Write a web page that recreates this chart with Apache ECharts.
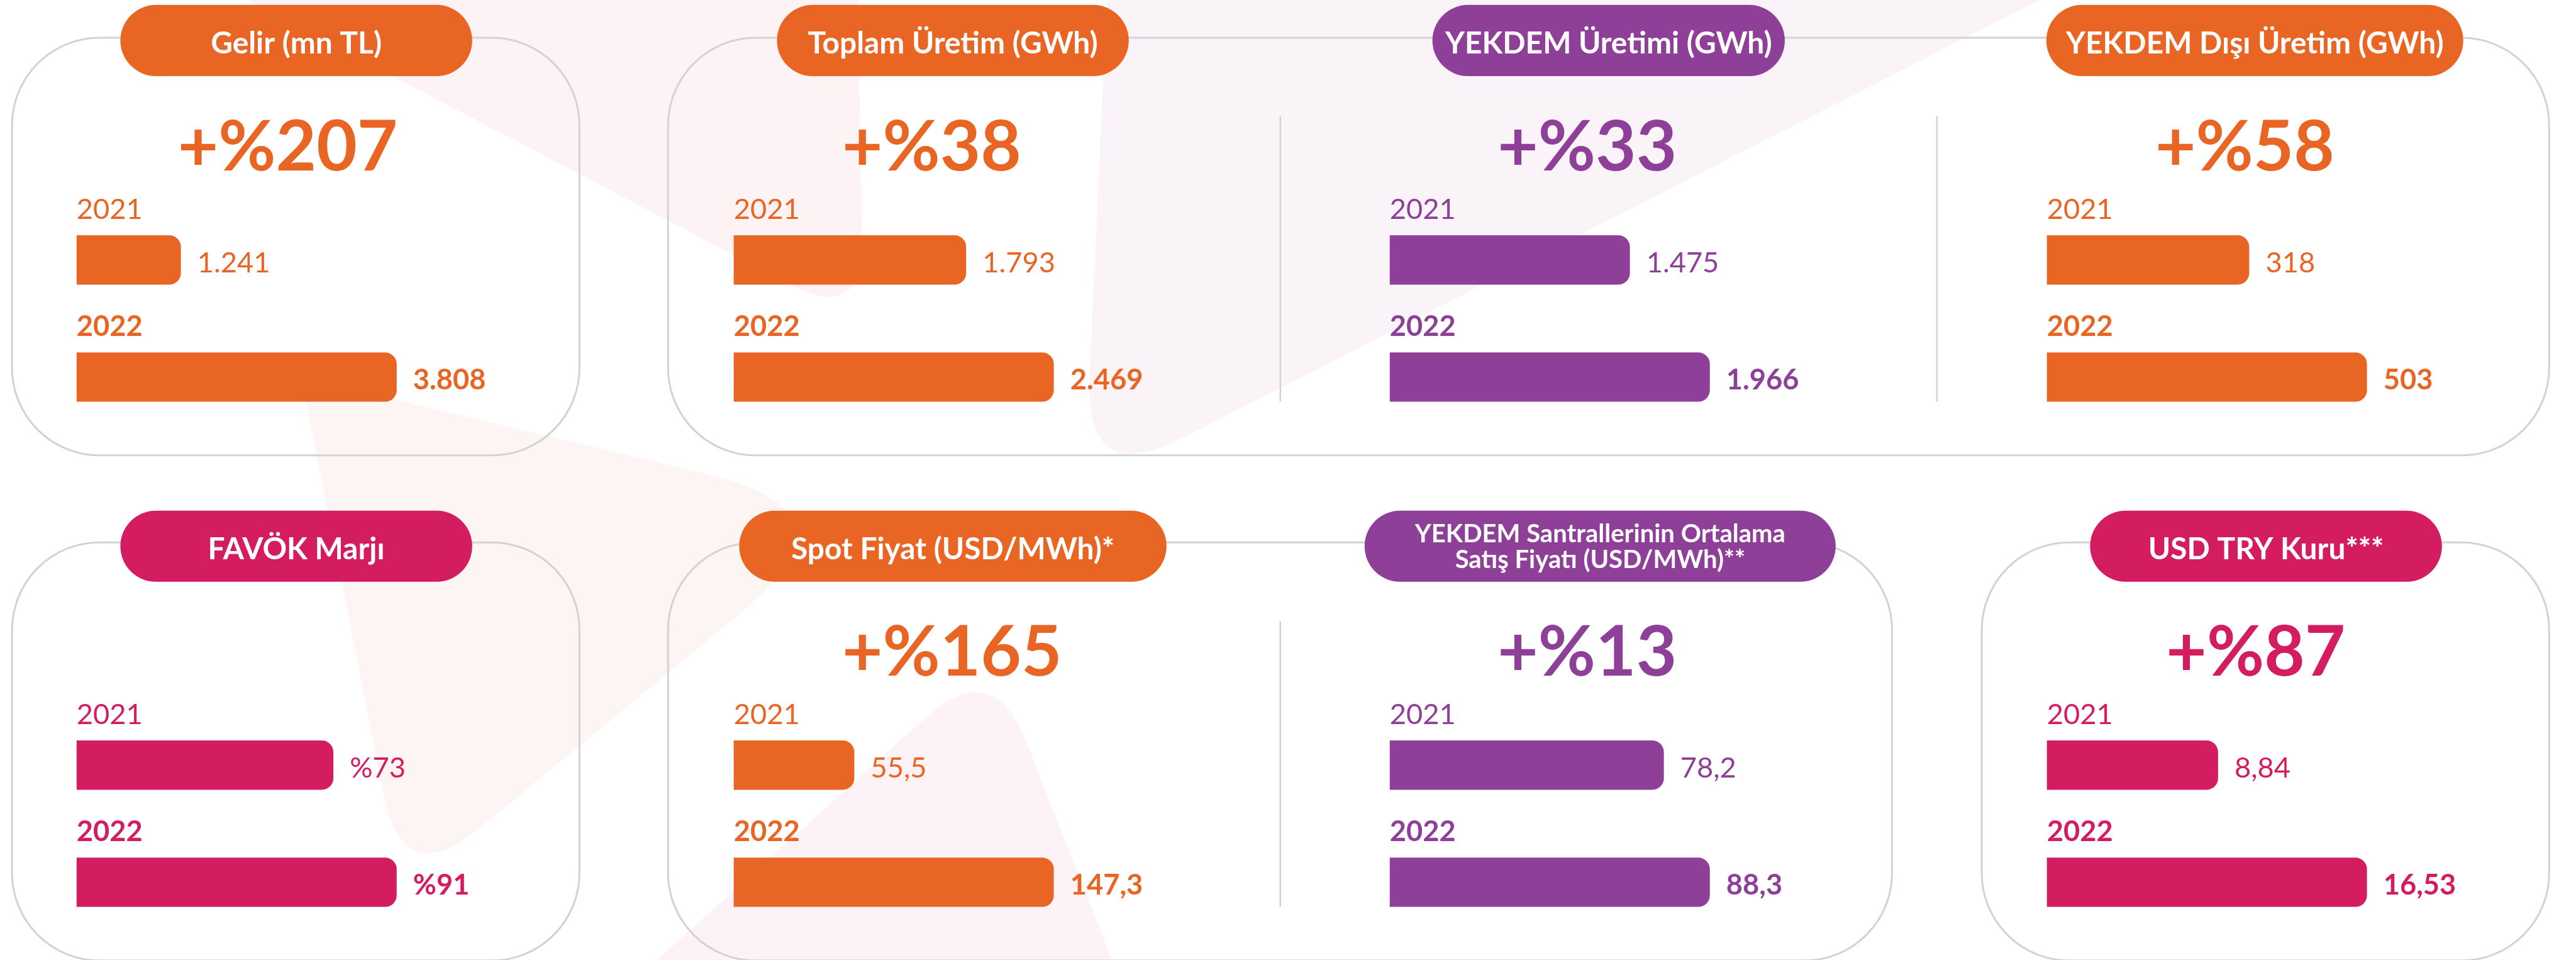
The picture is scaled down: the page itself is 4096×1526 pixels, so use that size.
<!DOCTYPE html>
<html>
<head>
<meta charset="utf-8">
<script src="https://cdn.jsdelivr.net/npm/echarts@6/dist/echarts.min.js"></script>
<style>
    html, body { margin: 0; padding: 0; background: #fff; }
    #chart { width: 4096px; height: 1526px; }
</style>
</head>
<body>
<div id="chart"></div>
<script>
// data
const years = ["2021", "2022"];
const gelir = [1241, 3808];
const toplamUretim = [1793, 2469];
const yekdemUretim = [1475, 1966];
const yekdemDisi = [318, 503];
const favokMarji = [73, 91];
const spotFiyat = [55.5, 147.3];
const yekdemFiyat = [78.2, 88.3];
const usdTry = [8.84, 16.53];
const titles = [
    "Gelir (mn TL)",
    "Toplam Üretim (GWh)",
    "YEKDEM Üretimi (GWh)",
    "YEKDEM Dışı Üretim (GWh)",
    "FAVÖK Marjı",
    "Spot Fiyat (USD/MWh)*",
    "YEKDEM Santrallerinin Ortalama\nSatış Fiyatı (USD/MWh)**",
    "USD TRY Kuru***",
];
const changes = ["+%207", "+%38", "+%33", "+%58", "", "+%165", "+%13", "+%87"];

const ORANGE = "#E96524";
const PURPLE = "#8E3F97";
const PINK = "#D41C60";
const FONT = 'Lato, "Noto Sans", sans-serif';

const S = 0.87; // reference px -> page px
const s = (v) => v * S;

const panels = [
    { data: gelir, color: ORANGE, dec: 0, prefix: "", col: 0, row: 0, pill: [220, 863], cx: 325 },
    { data: toplamUretim, color: ORANGE, dec: 0, prefix: "", col: 1, row: 0, pill: [1420, 2063], cx: 1539 },
    { data: yekdemUretim, color: PURPLE, dec: 0, prefix: "", col: 2, row: 0, pill: [2618, 3262], cx: 2737 },
    { data: yekdemDisi, color: ORANGE, dec: 0, prefix: "", col: 3, row: 0, pill: [3740, 4502], cx: 3939 },
    { data: favokMarji, color: PINK, dec: 0, prefix: "%", col: 0, row: 1, pill: [220, 863], cx: 0 },
    { data: spotFiyat, color: ORANGE, dec: 1, prefix: "", col: 1, row: 1, pill: [1351, 2132], cx: 1539 },
    { data: yekdemFiyat, color: PURPLE, dec: 1, prefix: "", col: 2, row: 1, pill: [2494, 3355], cx: 2737, min: 18 },
    { data: usdTry, color: PINK, dec: 2, prefix: "", col: 3, row: 1, pill: [3820, 4463], cx: 3959 },
];

const barLeft = [140, 1341, 2540, 3741];
const rowOff = [0, 923];

const fmt = (v, dec) => {
    let [i, d] = v.toFixed(dec).split(".");
    i = i.replace(/\B(?=(\d{3})+(?!\d))/g, ".");
    return d ? i + "," + d : i;
};

// rounded polygon for the pale background shapes
const roundPoly = (pts, ts) => {
    const out = [];
    const n = pts.length;
    for (let k = 0; k < n; k++) {
        const p = pts[k], a = pts[(k + n - 1) % n], b = pts[(k + 1) % n];
        const t = ts[k];
        if (!t) { out.push([s(p[0]), s(p[1])]); continue; }
        const da = Math.hypot(a[0] - p[0], a[1] - p[1]);
        const db = Math.hypot(b[0] - p[0], b[1] - p[1]);
        const A = [p[0] + (a[0] - p[0]) * t / da, p[1] + (a[1] - p[1]) * t / da];
        const B = [p[0] + (b[0] - p[0]) * t / db, p[1] + (b[1] - p[1]) * t / db];
        for (let j = 0; j <= 10; j++) {
            const u = j / 10;
            const x = (1 - u) * (1 - u) * A[0] + 2 * u * (1 - u) * p[0] + u * u * B[0];
            const y = (1 - u) * (1 - u) * A[1] + 2 * u * (1 - u) * p[1] + u * u * B[1];
            out.push([s(x), s(y)]);
        }
    }
    return out;
};

const graphic = [];
// background shapes
graphic.push({ type: "polygon", z: 0, shape: { points: roundPoly([[452, 0], [1568, 0], [1578, 590]], [0, 0, 150]) }, style: { fill: "#fdf3f5" } });
graphic.push({ type: "polygon", z: 0, shape: { points: roundPoly([[551, 690], [1579, 934], [736, 1629]], [60, 290, 180]) }, style: { fill: "#fcf5f3" } });
graphic.push({ type: "polygon", z: 0, shape: { points: roundPoly([[1815, 1200], [2050, 1800], [1150, 1800]], [166, 0, 0]) }, style: { fill: "#fdf2f6" } });
graphic.push({ type: "polygon", z: 0, shape: { points: roundPoly([[2023, 0], [3727, 0], [1982, 892]], [0, 0, 200]) }, style: { fill: "#faf3f8" } });

// frames
const boxStyle = { fill: "none", stroke: "#d3d3d3", lineWidth: s(3.5) };
[
    [22, 69, 1059, 832],
    [1221, 69, 4659, 832],
    [22, 991, 1059, 1755],
    [1221, 991, 3458, 1755],
    [3622, 991, 4659, 1755],
].forEach(([x1, y1, x2, y2]) => {
    graphic.push({ type: "rect", z: 1, shape: { x: s(x1), y: s(y1), width: s(x2 - x1), height: s(y2 - y1), r: s(160) }, style: boxStyle });
});
[[2340, 212, 734], [3540, 212, 734], [2340, 1135, 1657]].forEach(([x, y1, y2]) => {
    graphic.push({ type: "line", z: 1, shape: { x1: s(x), y1: s(y1), x2: s(x), y2: s(y2) }, style: { stroke: "#d3d3d3", lineWidth: s(3) } });
});

const grid = [], xAxis = [], yAxis = [], series = [];

panels.forEach((p, i) => {
    const off = rowOff[p.row];
    const pillTop = p.row ? 933 : 9;
    const pillH = 130;
    graphic.push({
        type: "rect", z: 5,
        shape: { x: s(p.pill[0]), y: s(pillTop), width: s(p.pill[1] - p.pill[0]), height: s(pillH), r: s(pillH / 2) },
        style: { fill: p.color },
    });
    const twoLine = titles[i].indexOf("\n") >= 0;
    graphic.push({
        type: "text", z: 6,
        x: s((p.pill[0] + p.pill[1]) / 2), y: s(pillTop + pillH / 2 + (twoLine ? 2 : 6)),
        style: {
            text: titles[i], fill: "#fff",
            fontSize: s(twoLine ? 46 : 55), fontWeight: "bold", fontFamily: FONT,
            lineHeight: s(47),
            align: "center", verticalAlign: "middle",
        },
    });
    if (changes[i]) {
        graphic.push({
            type: "text", z: 6,
            x: s(p.cx), y: s(270 + off),
            style: {
                text: changes[i], fill: p.color,
                fontSize: s(128), fontWeight: "bold", fontFamily: FONT,
                align: "left", verticalAlign: "middle",
            },
        });
    }

    grid.push({ left: s(barLeft[p.col]), top: s(368 + off), width: s(585), height: s(428) });
    xAxis.push({ gridIndex: i, type: "value", min: p.min || 0, max: Math.max(...p.data), show: false });
    yAxis.push({ gridIndex: i, type: "category", data: years, inverse: true, show: false });

    const items = p.data.map((v, j) => ({
        value: v,
        label: { fontWeight: j === years.length - 1 ? "bold" : "normal" },
    }));
    series.push({
        type: "bar", xAxisIndex: i, yAxisIndex: i, silent: true,
        data: items, barWidth: s(90), barGap: "-100%",
        itemStyle: { color: p.color, borderRadius: [0, s(21), s(21), 0] },
        label: {
            show: true, position: "right", distance: s(30), offset: [0, s(6)],
            color: p.color, fontSize: s(52), fontFamily: FONT,
            formatter: (d) => p.prefix + fmt(d.value, p.dec),
        },
    });
    // year captions above each bar
    series.push({
        type: "bar", xAxisIndex: i, yAxisIndex: i, silent: true,
        data: items, barWidth: s(90), barGap: "-100%",
        itemStyle: { color: "rgba(0,0,0,0)" },
        label: {
            show: true, position: [0, s(-47)], align: "left", verticalAlign: "middle",
            color: p.color, fontSize: s(52), fontFamily: FONT,
            formatter: (d) => d.name,
        },
    });
});

const myChart = echarts.init(document.getElementById("chart"));
myChart.setOption({
    backgroundColor: "#fff",
    animation: false,
    grid, xAxis, yAxis, series, graphic,
});
</script>
</body>
</html>
